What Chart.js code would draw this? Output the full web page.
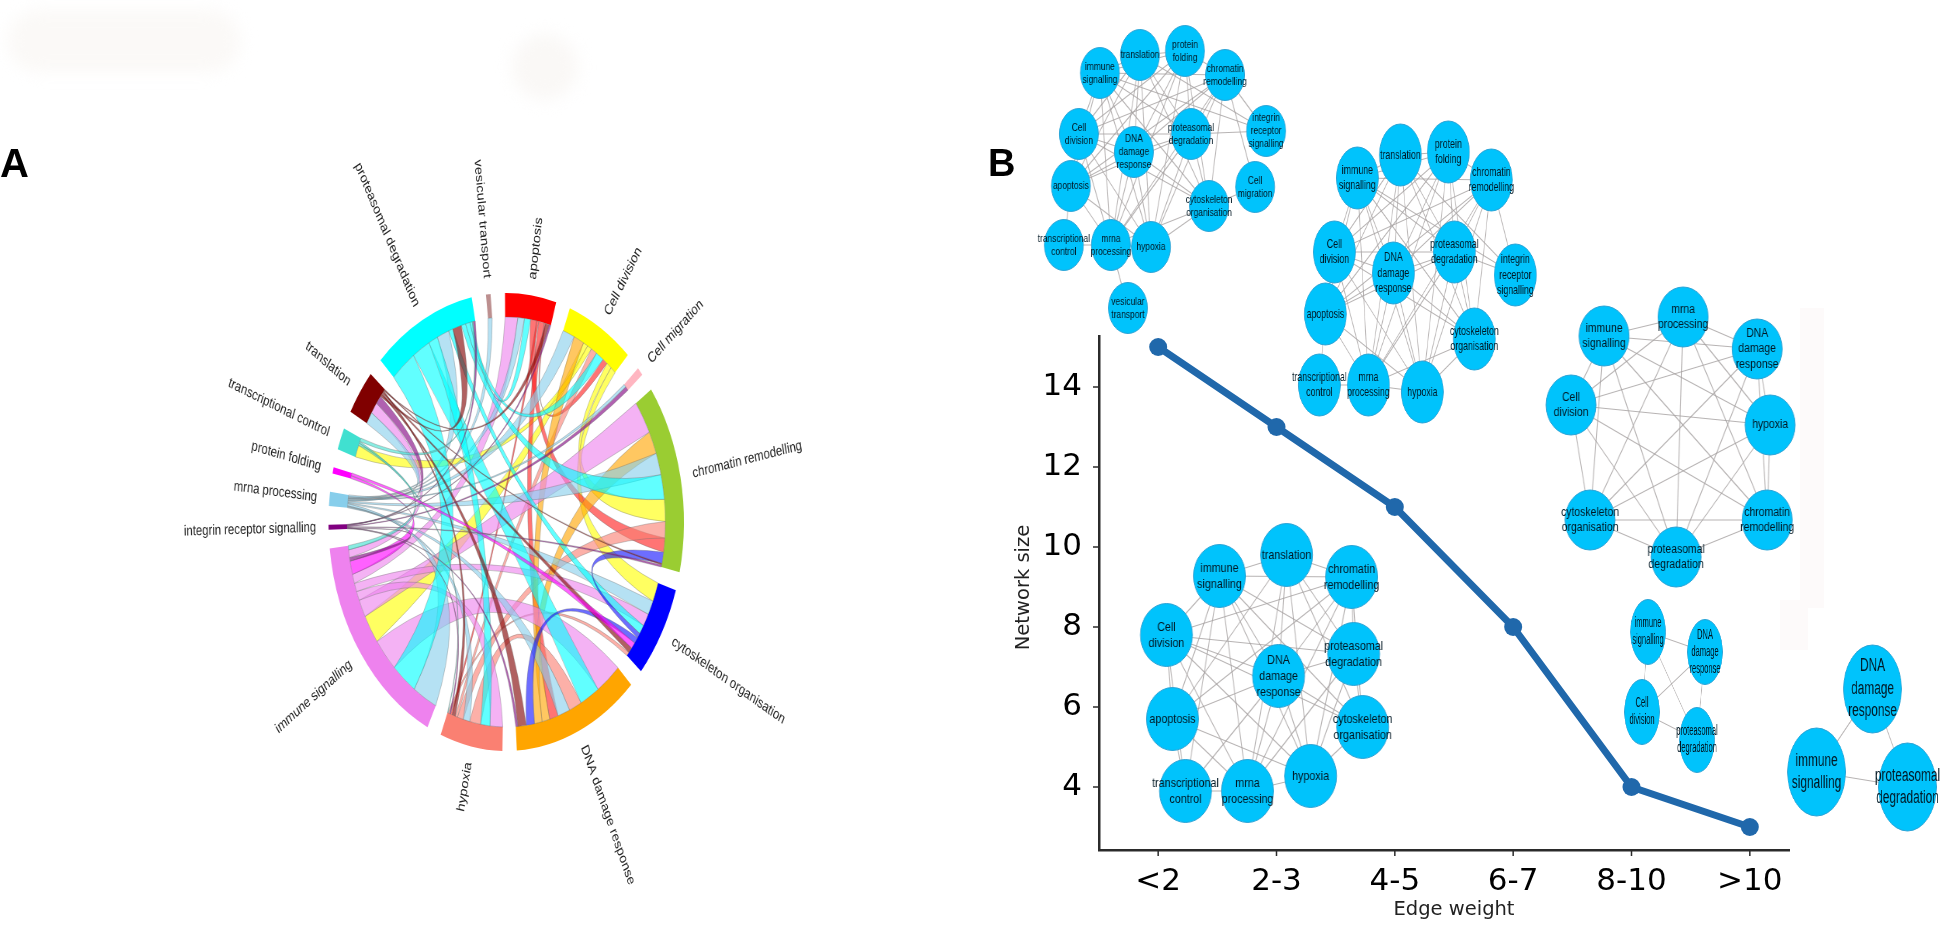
<!DOCTYPE html>
<html><head><meta charset="utf-8">
<style>
html,body{margin:0;padding:0;background:#fff;width:1952px;height:930px;overflow:hidden}
.p{position:absolute;transform-origin:0 0}
.patch{position:absolute}
</style>
<script src="https://cdn.jsdelivr.net/npm/chart.js@4"></script>
</head><body>
<canvas id="main" width="1952" height="930" style="position:absolute;left:0;top:0"></canvas>
<script>
// ---------- Line chart ----------
const edgeWeights = ["<2","2-3","4-5","6-7","8-10",">10"];
const networkSizes = [15,13,11,8,4,3];

// ---------- Chord diagram ----------
const sectorIds = ["ap","cd","mg","ch","cy","dn","hy","im","ig","mr","pf","tc","tl","pr","ve"];
const sectorNames = ["apoptosis","Cell division","Cell migration","chromatin remodelling","cytoskeleton organisation","DNA damage response","hypoxia","immune signalling","integrin receptor signalling","mrna processing","protein folding","transcriptional control","translation","proteasomal degradation","vesicular transport"];
const sectorColors = ["#ff0000","#ffff00","#ffb6c1","#9acd32","#0000ff","#ffa500","#fa8072","#ee82ee","#800080","#87ceeb","#ff00ff","#40e0d0","#800000","#00ffff","#bc8f8f"];
const ribbonColors = {ap:"255,30,30",cd:"255,255,0",mg:"255,182,193",ch:"154,205,50",cy:"20,20,255",dn:"255,165,0",hy:"250,128,114",im:"238,130,238",ig:"128,0,128",mr:"135,206,235",pf:"255,0,255",tc:"64,224,208",tl:"128,0,0",pr:"0,255,255",ve:"188,143,143"};
// clockwise list of partner and width at that end, for every sector
const linksAp = [["im",4.6],["mr",2.4],["pr",2.2],["ch",2.2],["hy",0.8],["dn",2.0],["cd",0.5],["tl",1.4],["ig",0.6]];
const linksCd = [["mr",4.3],["dn",3.8],["im",1.7],["tc",1.6],["hy",2.2],["pr",2.9],["ap",1.8],["ch",1.9],["cy",2.0]];
const linksMg = [["mr",0.9],["ig",1.2]];
const linksCh = [["im",9.4],["dn",6.4],["mr",6.2],["pr",7.0],["cd",6.2],["hy",4.6],["ap",4.0],["cy",3.2],["tl",0.4],["ig",0.6]];
const linksCy = [["cd",5.4],["mr",4.0],["im",3.6],["pr",2.6],["ch",1.4],["dn",1.8],["pf",1.8],["tl",1.6],["hy",1.1]];
const linksDn = [["im",9.4],["pr",7.2],["hy",4.6],["mr",4.4],["ap",3.2],["cd",2.8],["ch",2.8],["cy",3.0],["tl",3.0],["ig",0.8]];
const linksHy = [["im",4.6],["pr",3.4],["dn",4.0],["mr",2.4],["ch",2.2],["cd",0.8],["tl",1.2],["ap",0.6],["ig",0.4],["cy",0.6],["tc",0.2]];
const linksIm = [["mr",9.0],["pr",9.4],["dn",9.6],["cd",8.2],["ch",5.0],["hy",2.6],["cy",2.4],["ap",2.6],["pf",3.8],["ig",1.0],["tl",2.2],["tc",1.2]];
const linksIg = [["im",0.2],["hy",0.15],["dn",0.1],["ch",0.2],["mg",0.2],["pr",0.15],["ap",0.15],["tl",0.15]];
const linksMr = [["dn",0.3],["hy",0.25],["im",0.6],["cy",0.3],["ch",0.4],["ap",0.25],["cd",0.3],["ve",0.2],["mg",0.2],["pr",0.3],["tl",0.5]];
const linksPf = [["im",0.8],["cy",0.8]];
const linksTc = [["cd",3.4],["im",0.7],["hy",0.5],["pr",1.0]];
const linksTl = [["mr",3.4],["im",3.2],["ig",2.4],["pr",0.6],["dn",0.5],["cy",0.4],["hy",0.4],["ap",0.3],["ch",0.3]];
const linksPr = [["im",9.4],["dn",6.6],["hy",3.4],["mr",4.4],["cy",1.6],["tl",3.2],["ch",1.6],["cd",1.6],["ap",0.9],["tc",0.4],["ig",0.7]];
const linksVe = [["mr",1.5]];
const sectorLinks = [linksAp,linksCd,linksMg,linksCh,linksCy,linksDn,linksHy,linksIm,linksIg,linksMr,linksPf,linksTc,linksTl,linksPr,linksVe];
// which sector's colour each ribbon takes
const ribbonOwners = {
 cd:["im","tc","ch","cy"], ap:["ch","dn","cd","hy"], hy:["dn","ch","cd","cy"], dn:["cd","ch"],
 im:["ch","dn","hy","cy","ap","tl"], mr:["ap","cd","ch","cy","dn","hy","im","mg","pr","tl","ve"],
 pr:["im","dn","hy","cy","ch","cd","ap"], cy:["ch","dn"], tl:["pr","dn","cy","hy","ap","ch"],
 tc:["im","hy","pr"], pf:["im","cy"], ig:["im","hy","dn","ch","mg","pr","ap","tl"]
};

// ---------- Networks ----------
const n1Names = ["immune signalling","translation","protein folding","chromatin remodelling","integrin receptor signalling","Cell division","DNA damage response","proteasomal degradation","apoptosis","Cell migration","cytoskeleton organisation","transcriptional control","mrna processing","hypoxia","vesicular transport"];
const n1X = [1100,1140,1185,1225,1266,1079,1134,1191,1071,1255,1209,1064,1111,1151,1128];
const n1Y = [73,55,51,75,131,134,152,134,186,187,206,245,245,247,308];
const n1Edges = [[0,1],[0,2],[1,2],[2,3],[0,3],[0,5],[0,8],[0,6],[0,7],[0,4],[0,10],[0,12],[0,13],[1,4],[1,7],[1,6],[1,5],[1,8],[1,12],[1,13],[1,10],[2,5],[2,6],[2,7],[2,8],[2,12],[2,13],[2,10],[3,4],[3,7],[3,6],[3,5],[3,8],[3,12],[3,13],[3,10],[3,9],[5,6],[5,7],[5,8],[5,10],[5,12],[5,13],[7,6],[7,10],[7,4],[7,12],[7,13],[7,8],[6,8],[6,10],[6,12],[6,13],[8,11],[8,12],[8,13],[12,13],[11,12],[10,13],[10,12],[9,10],[12,14]];
const n2Names = ["immune signalling","translation","protein folding","chromatin remodelling","integrin receptor signalling","Cell division","DNA damage response","proteasomal degradation","apoptosis","cytoskeleton organisation","transcriptional control","mrna processing","hypoxia"];
const n2X = [1357,1400,1448,1491,1515,1334,1393,1454,1325,1474,1319,1368,1422];
const n2Y = [178,155,152,180,275,252,273,252,314,339,385,385,392];
const n2Edges = [[0,1],[0,2],[1,2],[2,3],[0,3],[0,5],[0,8],[0,6],[0,7],[0,4],[0,9],[0,11],[0,12],[1,4],[1,7],[1,6],[1,5],[1,8],[1,11],[1,12],[1,9],[2,5],[2,6],[2,7],[2,8],[2,11],[2,12],[2,9],[3,4],[3,7],[3,6],[3,5],[3,8],[3,11],[3,12],[3,9],[5,6],[5,7],[5,8],[5,9],[5,11],[5,12],[7,6],[7,9],[7,4],[7,11],[7,12],[7,8],[6,8],[6,9],[6,11],[6,12],[8,10],[8,11],[8,12],[11,12],[10,11],[9,12],[9,11]];
const n3Names = ["immune signalling","mrna processing","DNA damage response","Cell division","hypoxia","cytoskeleton organisation","chromatin remodelling","proteasomal degradation"];
const n3X = [1604,1683,1757,1571,1770,1590,1767,1676];
const n3Y = [336,317,349,405,425,520,520,557];
const n3Edges = [[0,1],[0,2],[0,3],[0,4],[0,5],[0,6],[0,7],[1,2],[1,3],[1,4],[1,5],[1,6],[1,7],[2,3],[2,4],[2,5],[2,6],[2,7],[3,4],[3,5],[3,6],[3,7],[4,5],[4,6],[4,7],[5,6],[5,7],[6,7]];
const n4Names = ["immune signalling","translation","chromatin remodelling","Cell division","proteasomal degradation","DNA damage response","apoptosis","cytoskeleton organisation","hypoxia","transcriptional control","mrna processing"];
const n4X = [1219,1286,1351,1166,1353,1278,1172,1362,1310,1185,1247];
const n4Y = [576,555,577,635,654,676,719,727,776,791,791];
const n4Edges = [[0,1],[0,2],[1,2],[0,3],[3,2],[3,6],[3,4],[3,5],[3,7],[3,10],[3,8],[0,6],[0,9],[0,10],[0,5],[0,4],[0,7],[0,8],[1,5],[1,4],[1,7],[1,8],[1,6],[1,10],[2,4],[2,5],[2,7],[2,6],[2,8],[2,10],[4,5],[4,7],[4,8],[4,10],[5,6],[5,7],[5,8],[5,10],[5,9],[6,9],[6,10],[6,8],[7,8],[8,10],[9,10],[3,9]];
const n5Names = ["immune signalling","DNA damage response","Cell division","proteasomal degradation"];
const n5X = [1648,1705,1642,1697];
const n5Y = [632,652,712,740];
const n5Edges = [[0,1],[0,2],[0,3],[1,2],[1,3],[2,3]];
const n6Names = ["DNA damage response","immune signalling","proteasomal degradation"];
const n6X = [1873,1817,1908];
const n6Y = [689,772,787];
const n6Edges = [[0,1],[0,2],[1,2]];

// ---------- Faint paper marks and the paste edges ----------
function patch(l,t,w,h,c,r){const d=document.createElement('div');d.className='patch';
 d.style.cssText=`left:${l}px;top:${t}px;width:${w}px;height:${h}px;background:${c};border-radius:${r||0}px;`+(r>20?'filter:blur(8px);':'');document.body.appendChild(d);}

// ---------- Main line chart ----------
const titleFont = {family:'"DejaVu Sans"',size:19.5};
const tickFont = {family:'"DejaVu Sans"',size:31};
new Chart(document.getElementById('main'),{
 type:'line',
 data:{labels:edgeWeights,datasets:[{data:networkSizes,borderColor:'#2068ab',backgroundColor:'#2068ab',borderWidth:7,pointRadius:9,pointBackgroundColor:'#2068ab',pointBorderWidth:0,tension:0,clip:false}]},
 options:{responsive:false,animation:false,events:[],
  layout:{autoPadding:false,padding:{left:1012,top:325,right:143,bottom:8}},
  plugins:{legend:{display:false},tooltip:{enabled:false}},
  scales:{
   x:{type:'category',offset:true,grid:{display:false,drawTicks:true},
      border:{display:true,color:'#2b2b2b',width:2.5},
      ticks:{font:tickFont,color:'#000',maxRotation:0,autoSkip:false,padding:5},
      afterFit:s=>{s.height=72;},
      title:{display:true,text:'Edge weight',font:titleFont,color:'#222',padding:{top:0,bottom:0}}},
   y:{min:2.425,max:15.55,grid:{display:false},
      border:{display:true,color:'#2b2b2b',width:2.5},
      ticks:{stepSize:2,includeBounds:false,font:tickFont,color:'#000',padding:9},
      afterFit:s=>{s.width=87;},
      title:{display:true,text:'Network size',font:titleFont,color:'#222',padding:{top:0,bottom:0}}}
  }
 },
 plugins:[{id:'tickMarks',afterDraw(c){
   const g=c.ctx;g.save();g.strokeStyle='#2b2b2b';g.lineWidth=1.5;
   const xs=c.scales.x,ys=c.scales.y,a=c.chartArea;
   xs.ticks.forEach((t,i)=>{const x=xs.getPixelForTick(i);g.beginPath();g.moveTo(x,a.bottom);g.lineTo(x,a.bottom+6);g.stroke();});
   ys.ticks.forEach((t,i)=>{const y=ys.getPixelForTick(i);g.beginPath();g.moveTo(a.left-6,y);g.lineTo(a.left,y);g.stroke();});
   g.fillStyle='#000';g.textAlign='left';g.textBaseline='alphabetic';
   g.font='bold 40px "Liberation Sans"';g.fillText('A',0,177);
   g.font='bold 38px "Liberation Sans"';g.fillText('B',988,176);
   g.restore();
 }}]
});

patch(1093,318,12,17,'#fff');
patch(1790,846,30,12,'#fff');
patch(1800,308,24,300,'#fdfafa');
patch(1780,600,28,50,'#fdfafa');
patch(8,10,232,62,'#fbf9f7',30);
patch(512,34,66,66,'#faf8f6',33);

// ---------- Chord diagram ----------
(function(){
 const side=900,squeeze=0.776,cx=506.6,cy=522,outer=229;
 const wrap=document.createElement('div');wrap.className='p';
 wrap.style.cssText=`left:${cx-side*squeeze/2}px;top:${cy-side/2}px;width:${side}px;height:${side}px;transform:scaleX(${squeeze})`;
 const cv=document.createElement('canvas');cv.width=side;cv.height=side;wrap.appendChild(cv);document.body.appendChild(wrap);
 const gap=4.65;
 const sizes=sectorLinks.map(l=>l.reduce((s,e)=>s+e[1],0));
 const values=[],colors=[];
 sizes.forEach((v,i)=>{values.push(v,gap);colors.push(sectorColors[i],'rgba(0,0,0,0)');});
 const pad=side/2-outer;
 new Chart(cv,{type:'doughnut',
  data:{labels:values.map((v,i)=>i%2?'':sectorNames[i/2]),datasets:[{data:values,backgroundColor:colors,borderWidth:0,hoverOffset:0,spacing:0}]},
  options:{responsive:false,animation:false,events:[],rotation:-0.4,cutout:'89.5%',layout:{padding:pad},plugins:{legend:{display:false},tooltip:{enabled:false}}},
  plugins:[{id:'ribbons',afterDatasetsDraw(c){
   const g=c.ctx,arcs=c.getDatasetMeta(0).data;
   const ox=arcs[0].x,oy=arcs[0].y,r=arcs[0].innerRadius,R=arcs[0].outerRadius;
   const ends={};
   sectorIds.forEach((id,i)=>{const a=arcs[i*2],tot=sizes[i];let at=a.startAngle;const k=(a.endAngle-a.startAngle)/tot;
     sectorLinks[i].forEach(e=>{const w=e[1]*k;ends[id+'|'+e[0]]=[at,at+w];at+=w;});});
   const pt=(an,rad)=>[ox+rad*Math.cos(an),oy+rad*Math.sin(an)];
   const ctrl=(p,q)=>{let d=Math.atan2(Math.sin(q-p),Math.cos(q-p));const mid=p+d/2;const rr=r*0.22*(1-Math.abs(d)/Math.PI);return pt(mid,rr);};
   const order=["cd","ap","hy","dn","im","mr","pr","cy","tl","tc","pf","ig"];
   order.forEach(o=>{(ribbonOwners[o]||[]).forEach(p=>{
     const A=ends[o+'|'+p],B=ends[p+'|'+o];if(!A||!B)return;
     g.beginPath();g.arc(ox,oy,r,A[0],A[1]);
     let c1=ctrl(A[1],B[0]),e1=pt(B[0],r);g.quadraticCurveTo(c1[0],c1[1],e1[0],e1[1]);
     g.arc(ox,oy,r,B[0],B[1]);
     let c2=ctrl(B[1],A[0]),e2=pt(A[0],r);g.quadraticCurveTo(c2[0],c2[1],e2[0],e2[1]);
     g.closePath();
     g.fillStyle='rgba('+ribbonColors[o]+',0.62)';g.fill();
     g.strokeStyle='rgba(110,110,110,0.45)';g.lineWidth=0.8;g.stroke();
   });});
   g.fillStyle='#222';g.font='14.6px "Liberation Sans"';g.textBaseline='middle';
   sectorIds.forEach((id,i)=>{const a=arcs[i*2],m=(a.startAngle+a.endAngle)/2;
     const p=pt(m,R*1.07);g.save();g.translate(p[0],p[1]);
     const right=Math.cos(m)>=0;
     if(right){g.rotate(m);g.textAlign='left';}else{g.rotate(m+Math.PI);g.textAlign='right';}
     g.fillText(sectorNames[i],0,0);g.restore();});
  }}]
 });
})();

// ---------- Networks ----------
function network(names,X,Y,edges,w,h,font,lead){
 const s=w/h,x0=Math.min(...X)-w*1.2,x1=Math.max(...X)+w*1.2,y0=Math.min(...Y)-h,y1=Math.max(...Y)+h;
 const cw=Math.round((x1-x0)/s),ch=Math.round(y1-y0);
 const wrap=document.createElement('div');wrap.className='p';
 wrap.style.cssText=`left:${x0}px;top:${y0}px;width:${cw}px;height:${ch}px;transform:scaleX(${s})`;
 const cv=document.createElement('canvas');cv.width=cw;cv.height=ch;wrap.appendChild(cv);document.body.appendChild(wrap);
 const pts=names.map((n,i)=>({x:X[i],y:Y[i]}));
 const ds=[{data:pts,pointRadius:h/2,pointBackgroundColor:'#00c3fc',pointBorderColor:'#2aa3d6',pointBorderWidth:1,showLine:false,clip:false}];
 edges.forEach(e=>ds.push({data:[pts[e[0]],pts[e[1]]],showLine:true,pointRadius:0,borderColor:'rgba(165,160,160,0.8)',borderWidth:1.1,clip:false}));
 new Chart(cv,{type:'scatter',data:{datasets:ds},
  options:{responsive:false,animation:false,events:[],layout:{autoPadding:false,padding:0},
   plugins:{legend:{display:false},tooltip:{enabled:false}},
   scales:{x:{type:'linear',display:false,min:x0,max:x1},y:{type:'linear',display:false,min:y0,max:y1,reverse:true}}},
  plugins:[{id:'nodeText',afterDatasetsDraw(c){
   const g=c.ctx;g.save();g.fillStyle='#001824';g.font=font+'px "Liberation Sans"';g.textAlign='center';g.textBaseline='middle';
   names.forEach((n,i)=>{const px=c.scales.x.getPixelForValue(X[i]),py=c.scales.y.getPixelForValue(Y[i]);
     const L=n.split(' ');L.forEach((t,j)=>g.fillText(t,px,py+(j-(L.length-1)/2)*lead));});
   g.restore();}}]
 });
}
network(n1Names,n1X,n1Y,n1Edges,39,51,11,13);
network(n2Names,n2X,n2Y,n2Edges,42,62,13,15.6);
network(n3Names,n3X,n3Y,n3Edges,50,60,12.5,15.8);
network(n4Names,n4X,n4Y,n4Edges,52,63,13,16);
network(n5Names,n5X,n5Y,n5Edges,35,65,14,16.8);
network(n6Names,n6X,n6Y,n6Edges,58,88,18,22.5);
</script>
</body></html>
